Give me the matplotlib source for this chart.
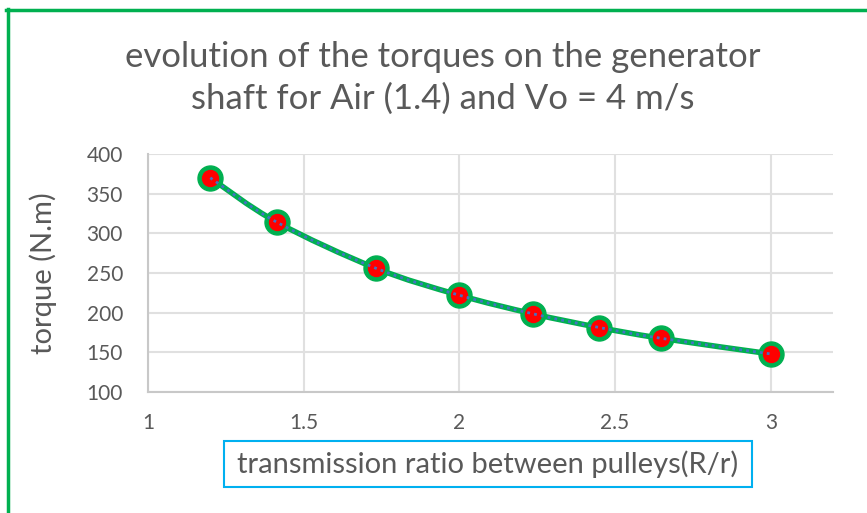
import numpy as np
import matplotlib
matplotlib.use('Agg')
from matplotlib import pyplot as plt
from matplotlib.path import Path
from matplotlib.patches import PathPatch, Rectangle
from matplotlib.lines import Line2D

plt.rcParams['font.family'] = ['Lato', 'DejaVu Sans']

# transmission ratio R/r and torque on generator shaft (N.m)
ratio = [1.2, 1.414, 1.732, 2.0, 2.236, 2.449, 2.646, 3.0]
torque = [370, 314, 256, 222, 198.6, 181.3, 167.8, 148]
x_ticks = [1, 1.5, 2, 2.5, 3]
y_ticks = [100, 150, 200, 250, 300, 350, 400]

W, H = 867, 513
fig = plt.figure(figsize=(W / 100, H / 100), dpi=100)
ax = fig.add_axes([148 / W, 1 - 392 / H, (833 - 148) / W, (392 - 154) / H])

# smooth line like excel (bezier through the points)
x = np.array(ratio)
y = np.array(torque)
t = 1 / 6
verts = [(x[0], y[0])]
codes = [Path.MOVETO]
for i in range(len(x) - 1):
    x0, y0 = (x[i - 1], y[i - 1]) if i > 0 else (x[i], y[i])
    x3, y3 = (x[i + 2], y[i + 2]) if i + 2 < len(x) else (x[i + 1], y[i + 1])
    c1 = (x[i] + (x[i + 1] - x0) * t, y[i] + (y[i + 1] - y0) * t)
    c2 = (x[i + 1] - (x3 - x[i]) * t, y[i + 1] - (y3 - y[i]) * t)
    verts += [c1, c2, (x[i + 1], y[i + 1])]
    codes += [Path.CURVE4] * 3
path = Path(verts, codes)
ax.add_patch(PathPatch(path, fill=False, edgecolor='#00b050', lw=4, zorder=3))
ax.plot(ratio, torque, 'o', ms=18, color='#00b050', mec='#00b050', zorder=4)
ax.plot(ratio, torque, 'o', ms=11.5, color='#ff0000', mec='#ff0000', zorder=5)
ax.add_patch(PathPatch(path, fill=False, edgecolor='#4472c4', lw=2, ls=(0, (1, 1.5)), zorder=6))

ax.set_xlim(1, 3.2)
ax.set_ylim(100, 400)
ax.set_xticks(x_ticks)
ax.set_xticklabels(['1', '1.5', '2', '2.5', '3'])
ax.set_yticks(y_ticks)
ax.grid(True, color='#e0e0e0', lw=1.5)
ax.set_axisbelow(True)
for s in ['top', 'right']:
    ax.spines[s].set_visible(False)
for s in ['left', 'bottom']:
    ax.spines[s].set_color('#c8c8c8')
    ax.spines[s].set_linewidth(1.5)
ax.tick_params(length=0, labelsize=15, labelcolor='#595959')
ax.tick_params(axis='x', pad=15)
ax.tick_params(axis='y', pad=18)

ax.set_ylabel('torque (N.m)', fontsize=21, color='#595959', labelpad=21)

fig.text(443 / W, 1 - 78 / H, 'evolution of the torques on the generator\nshaft for Air (1.4) and Vo = 4 m/s',
         ha='center', va='center', fontsize=25, color='#595959', linespacing=1.37)

fig.patches.append(Rectangle((224 / W, 1 - 487 / H), (752 - 224) / W, (487 - 441) / H,
                             transform=fig.transFigure, fill=False, edgecolor='#00b0f0', lw=1.5))
fig.text(488 / W, 1 - 464 / H, 'transmission ratio between pulleys(R/r)', ha='center', va='center',
         fontsize=21, color='#595959')

# green frame
fig.lines.append(Line2D([7.5 / W, 7.5 / W], [0, 1 - 9 / H], transform=fig.transFigure, color='#00b050', lw=2.5))
fig.lines.append(Line2D([6 / W, 1], [1 - 10 / H, 1 - 10 / H], transform=fig.transFigure, color='#00b050', lw=2.5))

fig.savefig('out.png', dpi=100)
